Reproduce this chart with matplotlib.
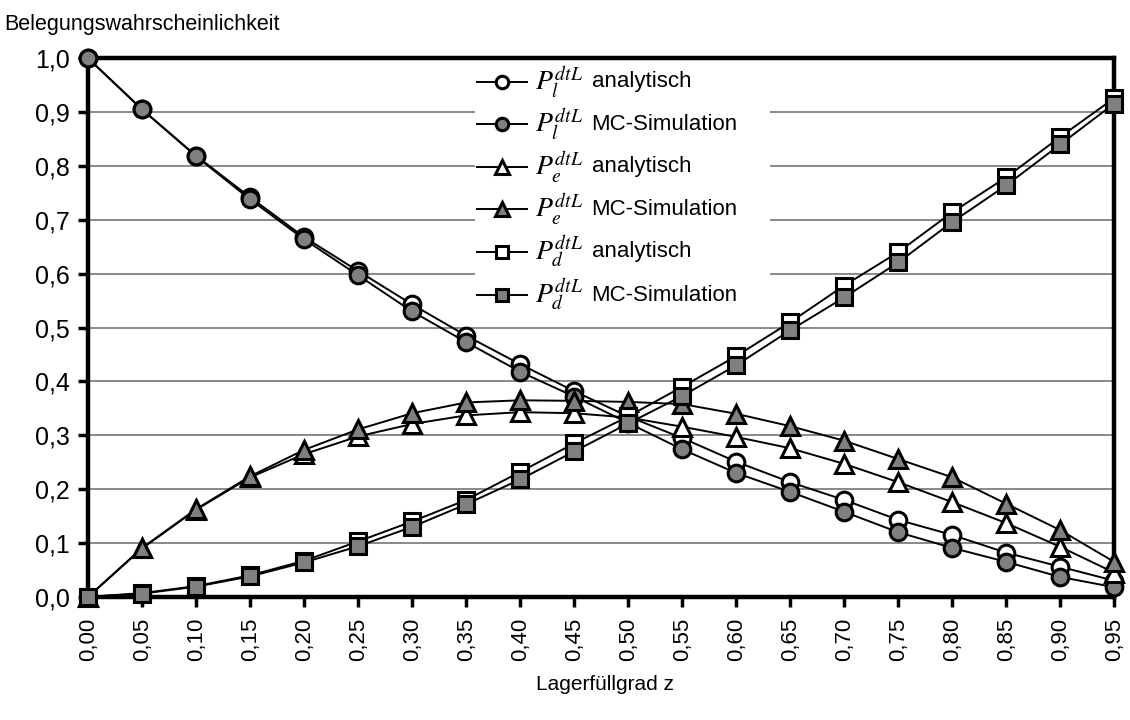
import numpy as np
import matplotlib
matplotlib.use("Agg")
from matplotlib import pyplot as plt
from matplotlib.lines import Line2D
from matplotlib.offsetbox import AnchoredOffsetbox, HPacker, VPacker, TextArea, DrawingArea

plt.rcParams['font.family'] = ['Liberation Sans', 'DejaVu Sans']
plt.rcParams['mathtext.fontset'] = 'stix'

# Lagerfuellgrad z
z = [0.00, 0.05, 0.10, 0.15, 0.20, 0.25, 0.30, 0.35, 0.40, 0.45,
     0.50, 0.55, 0.60, 0.65, 0.70, 0.75, 0.80, 0.85, 0.90, 0.95]

pl_analytisch = [1.000, 0.905, 0.819, 0.742, 0.668, 0.605, 0.543, 0.485, 0.432, 0.382,
                 0.335, 0.295, 0.251, 0.213, 0.180, 0.143, 0.115, 0.082, 0.056, 0.030]
pl_mc = [1.000, 0.905, 0.818, 0.738, 0.664, 0.597, 0.530, 0.473, 0.418, 0.372,
         0.323, 0.274, 0.230, 0.195, 0.158, 0.120, 0.091, 0.065, 0.037, 0.018]

pe_analytisch = [0.000, 0.090, 0.162, 0.222, 0.265, 0.298, 0.321, 0.337, 0.343, 0.341,
                 0.333, 0.316, 0.297, 0.276, 0.247, 0.213, 0.176, 0.137, 0.093, 0.045]
pe_mc = [0.000, 0.091, 0.163, 0.224, 0.273, 0.311, 0.341, 0.361, 0.365, 0.364,
         0.362, 0.358, 0.340, 0.317, 0.290, 0.256, 0.222, 0.173, 0.124, 0.065]

pd_analytisch = [0.000, 0.007, 0.020, 0.040, 0.067, 0.103, 0.140, 0.180, 0.232, 0.285,
                 0.335, 0.390, 0.447, 0.510, 0.578, 0.640, 0.714, 0.779, 0.854, 0.926]
pd_mc = [0.000, 0.006, 0.019, 0.038, 0.064, 0.094, 0.130, 0.172, 0.218, 0.270,
         0.322, 0.373, 0.430, 0.495, 0.556, 0.621, 0.696, 0.764, 0.840, 0.916]

series = [
    (pl_analytisch, 'o', 'white', r'$P_l^{dtL}$', 'analytisch'),
    (pl_mc, 'o', '#808080', r'$P_l^{dtL}$', 'MC-Simulation'),
    (pe_analytisch, '^', 'white', r'$P_e^{dtL}$', 'analytisch'),
    (pe_mc, '^', '#808080', r'$P_e^{dtL}$', 'MC-Simulation'),
    (pd_analytisch, 's', 'white', r'$P_d^{dtL}$', 'analytisch'),
    (pd_mc, 's', '#808080', r'$P_d^{dtL}$', 'MC-Simulation'),
]

fig = plt.figure(figsize=(11.3, 7.2), dpi=100)
ax = fig.add_axes([0.078, 0.171, 0.908, 0.748])

for i, (vals, marker, face, sym, word) in enumerate(series):
    ms = 12 if marker != '^' else 13
    ax.plot(z, vals, color='black', lw=1.4, marker=marker, markersize=ms,
            markerfacecolor=face, markeredgecolor='black', markeredgewidth=2.2,
            clip_on=False, zorder=3 + i)

ax.set_xlim(0, 0.95)
ax.set_ylim(0, 1.0)
ax.set_xticks(z)
ax.set_xticklabels([f"{v:.2f}".replace('.', ',') for v in z], rotation=90, fontsize=16)
yt = np.arange(0, 1.01, 0.1)
ax.set_yticks(yt)
ax.set_yticklabels([f"{v:.1f}".replace('.', ',') for v in yt], fontsize=18)
ax.tick_params(axis='both', direction='out', length=7, width=2.5, color='black')
ax.tick_params(axis='x', pad=8)
ax.tick_params(axis='y', pad=6)

ax.yaxis.grid(True, color='#808080', lw=1.3)
ax.set_axisbelow(True)
for sp in ax.spines.values():
    sp.set_linewidth(3.2)
    sp.set_color('black')
    sp.set_zorder(2)

fig.text(0.004, 0.966, 'Belegungswahrscheinlichkeit', fontsize=15.5, ha='left', va='center')
fig.text(0.535, 0.05, 'Lagerfüllgrad z', fontsize=15, ha='center', va='center')

# legend: larger math symbol, smaller plain text
rows = []
for vals, marker, face, sym, word in series:
    da = DrawingArea(36, 16, 0, 0)
    ms = 9 if marker != '^' else 10
    da.add_artist(Line2D([0, 18, 36], [8, 8, 8], color='black', lw=1.4,
                         marker=marker, markevery=[1], markersize=ms,
                         markerfacecolor=face, markeredgecolor='black',
                         markeredgewidth=2.2))
    rows.append(HPacker(children=[da,
                                  TextArea(sym, textprops=dict(fontsize=20)),
                                  TextArea(word, textprops=dict(fontsize=16)),
                                  DrawingArea(16, 1, 0, 0)],
                        align='center', pad=0, sep=6))
box = VPacker(children=rows, align='left', pad=0, sep=5)
anchored = AnchoredOffsetbox(loc='upper left', child=box, bbox_to_anchor=(0.377, 0.993),
                             bbox_transform=ax.transAxes, frameon=True, pad=0.15, borderpad=0)
anchored.patch.set_edgecolor('none')
anchored.patch.set_facecolor('white')
anchored.set_zorder(20)
ax.add_artist(anchored)

fig.savefig('out.png', dpi=100)
